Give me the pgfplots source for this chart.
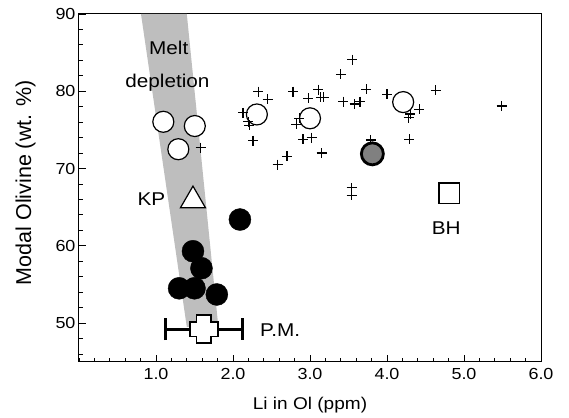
\documentclass[border=0pt]{standalone}
\usepackage{fontspec}
\setmainfont{Liberation Sans}[FakeStretch=1.12]
\newfontfamily\ylabfont{Liberation Sans}
\usepackage{pgfplots}
\pgfplotsset{compat=1.18}

% outlined greek cross for the primitive mantle point
\pgfdeclareplotmark{gcross}{%
  \pgfpathmoveto{\pgfqpoint{-0.52\pgfplotmarksize}{\pgfplotmarksize}}%
  \pgfpathlineto{\pgfqpoint{0.52\pgfplotmarksize}{\pgfplotmarksize}}%
  \pgfpathlineto{\pgfqpoint{0.52\pgfplotmarksize}{0.52\pgfplotmarksize}}%
  \pgfpathlineto{\pgfqpoint{\pgfplotmarksize}{0.52\pgfplotmarksize}}%
  \pgfpathlineto{\pgfqpoint{\pgfplotmarksize}{-0.52\pgfplotmarksize}}%
  \pgfpathlineto{\pgfqpoint{0.52\pgfplotmarksize}{-0.52\pgfplotmarksize}}%
  \pgfpathlineto{\pgfqpoint{0.52\pgfplotmarksize}{-\pgfplotmarksize}}%
  \pgfpathlineto{\pgfqpoint{-0.52\pgfplotmarksize}{-\pgfplotmarksize}}%
  \pgfpathlineto{\pgfqpoint{-0.52\pgfplotmarksize}{-0.52\pgfplotmarksize}}%
  \pgfpathlineto{\pgfqpoint{-\pgfplotmarksize}{-0.52\pgfplotmarksize}}%
  \pgfpathlineto{\pgfqpoint{-\pgfplotmarksize}{0.52\pgfplotmarksize}}%
  \pgfpathlineto{\pgfqpoint{-0.52\pgfplotmarksize}{0.52\pgfplotmarksize}}%
  \pgfpathclose
  \pgfusepathqfillstroke}

\definecolor{band}{HTML}{BEBEBE}
\definecolor{midgray}{HTML}{808080}

\begin{document}
\begin{tikzpicture}
\path[use as bounding box] (-79pt,-55.3pt) rectangle (490pt,361.7pt);
\begin{axis}[
  at={(0,0)}, anchor=south west,
  scale only axis, width=462pt, height=347.7pt,
  xmin=0, xmax=6, ymin=45, ymax=90,
  xtick={1,2,3,4,5,6}, ytick={50,60,70,80,90},
  minor xtick={0,0.2,...,6}, minor ytick={46,48,...,90},
  tick align=inside, tick pos=left,
  major tick length=7pt, minor tick length=4pt,
  every tick/.style={black, line width=0.9pt},
  axis line style={line width=1pt},
  /pgf/number format/assume math mode=true,
  tick label style={font=\fontsize{16}{19}\selectfont},
  xticklabel style={yshift=-3pt, /pgf/number format/.cd, fixed, fixed zerofill, precision=1},
  xlabel={Li in Ol (ppm)},
  ylabel={Modal Olivine (wt. \%)},
  every axis x label/.style={at={(axis description cs:0.5,-0.1245)}, anchor=center,
    font=\fontsize{17}{20}\selectfont},
  every axis y label/.style={at={(axis description cs:-0.1158,0.515)}, rotate=90, anchor=center,
    font=\ylabfont\fontsize{21.5}{24}\selectfont},
]
% melt depletion trend
\addplot[fill=band, draw=none] coordinates
  {(0.805,90) (1.40,90) (1.81,49.5) (1.40,49.5)} -- cycle;

% open circles
\addplot[only marks, mark=*, mark size=10.5pt,
  mark options={fill=white, draw=black, line width=1.2pt}] coordinates
  {(1.095,76.05) (1.504,75.5) (1.29,72.5) (2.31,77.0) (3.0,76.5) (4.21,78.6)};

% crosses
\addplot[only marks, mark=+, mark size=5pt, mark options={line width=1.2pt}] coordinates {
  (2.33,79.94) (2.45,78.95) (2.13,77.2) (2.20,76.05) (2.21,75.6) (2.26,73.6)
  (2.78,79.94) (2.98,79.1) (2.86,76.5) (2.82,75.75) (2.91,73.8) (2.70,71.6)
  (2.58,70.5) (1.58,72.7) (3.11,80.2) (3.14,79.2) (3.18,79.2) (3.02,74.0)
  (3.15,72.0) (3.55,84.1) (3.40,82.2) (3.73,80.25) (3.43,78.65) (3.58,78.35)
  (3.65,78.65) (4.00,79.6) (3.79,73.7) (4.29,73.8) (4.63,80.1) (4.42,77.65)
  (4.30,77.05) (4.28,76.6) (5.49,78.1) (3.54,67.5) (3.54,66.55)
};

% gray circle
\addplot[only marks, mark=*, mark size=11pt,
  mark options={fill=midgray, draw=black, line width=2.8pt}] coordinates {(3.81,71.9)};

% black circles
\addplot[only marks, mark=*, mark size=11pt, mark options={fill=black, draw=black}] coordinates
  {(2.09,63.4) (1.48,59.3) (1.59,57.1) (1.30,54.5) (1.50,54.5) (1.79,53.7)};

% KP
\addplot[only marks, mark=triangle*, mark size=14.5pt,
  mark options={fill=white, draw=black, line width=1.2pt}] coordinates {(1.48,65.85)};

% BH
\addplot[only marks, mark=square*, mark size=10.3pt,
  mark options={fill=white, draw=black, line width=1.4pt}] coordinates {(4.81,66.8)};

% P.M.
\addplot[only marks, mark=gcross, mark size=14pt,
  mark options={fill=white, draw=black, line width=1.8pt},
  error bars/.cd, x dir=both, x explicit,
  error mark=|,
  error bar style={line width=3pt},
  error mark options={line width=3pt, mark size=11pt}]
  coordinates {(1.62,49.2) +- (0.5,0)};

\node[font=\fontsize{18.5}{21}\selectfont, anchor=base] at (axis cs:1.165,84.7) {Melt};
\node[font=\fontsize{18.5}{21}\selectfont, anchor=base] at (axis cs:1.149,80.5) {depletion};
\node[font=\fontsize{18.5}{21}\selectfont] at (axis cs:0.94,66.1) {KP};
\node[font=\fontsize{18.5}{21}\selectfont] at (axis cs:4.77,62.24) {BH};
\node[font=\fontsize{18.5}{21}\selectfont, anchor=west, inner sep=0pt] at (axis cs:2.35,49.07) {P.M.};
\end{axis}
\end{tikzpicture}
\end{document}
